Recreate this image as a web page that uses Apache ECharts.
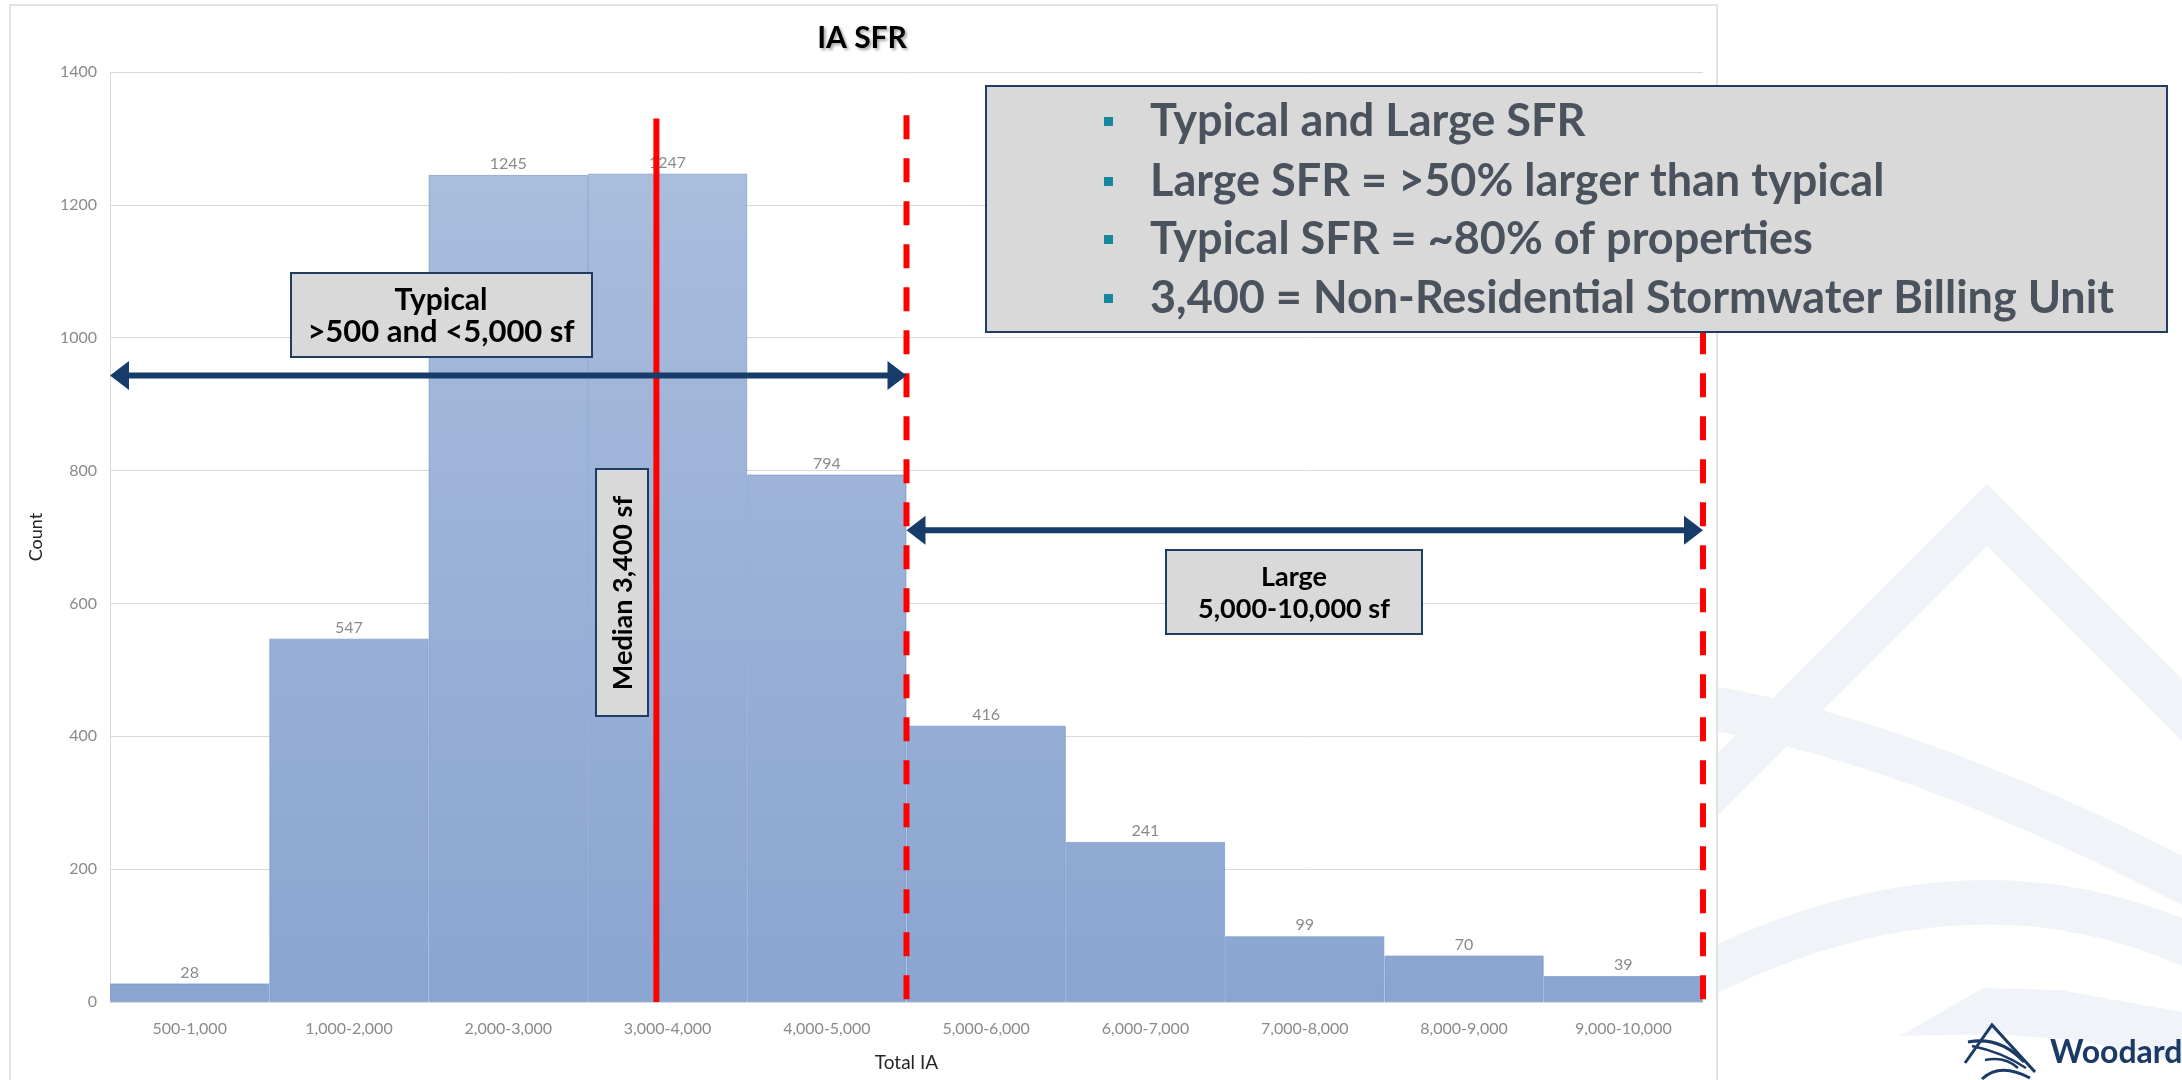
<!DOCTYPE html>
<html>
<head>
<meta charset="utf-8">
<script src="https://cdn.jsdelivr.net/npm/echarts@6/dist/echarts.min.js"></script>
<style>html,body{margin:0;padding:0;background:#fff;}#c{width:2182px;height:1080px;}</style>
</head>
<body>
<div id="c"></div>
<script>
// ---- data ----
const categories = ['500-1,000','1,000-2,000','2,000-3,000','3,000-4,000','4,000-5,000','5,000-6,000','6,000-7,000','7,000-8,000','8,000-9,000','9,000-10,000'];
const counts = [28, 547, 1245, 1247, 794, 416, 241, 99, 70, 39];
const yMin = 0, yMax = 1400, yStep = 200;
// reference lines on the bin-boundary scale (1 unit = 1,000 sf): [position, top value, dashed]
const refLines = [[3.43, 1330, 0], [5, 1335, 1], [10, 1335, 1]];
// range arrows: [from, to, at count]
const rangeArrows = [[0, 5, 943], [5, 10, 710]];
const titleText = 'IA SFR';
const xName = 'Total IA';
const yName = 'Count';
const typicalLines = ['Typical', '>500 and <5,000 sf'];
const largeLines = ['Large', '5,000-10,000 sf'];
const medianText = 'Median 3,400 sf';
const bullets = ['Typical and Large SFR', 'Large SFR = >50% larger than typical', 'Typical SFR = ~80% of properties', '3,400 = Non-Residential Stormwater Billing Unit'];

const chart = echarts.init(document.getElementById('c'), null, {renderer: 'canvas'});
const NAVY = '#173c6a';
const BOXFILL = '#d9d9d9';
const BOXLINE = '#1f3c66';
const F = 'Lato, "Open Sans", sans-serif';

function text(x, y, t, font, fill, align, z, extra) {
  return Object.assign({type: 'text', x: x, y: y, z: z || 20,
    style: Object.assign({text: t, font: font, fill: fill, textAlign: align || 'center', textVerticalAlign: 'middle'}, extra || {})});
}

const wm = '#f0f3f7';
const graphics = [
  // watermark
  {type: 'polyline', z: -20, shape: {points: [[1650, 852], [1987, 515], [2260, 788]]}, style: {stroke: wm, lineWidth: 44, fill: null, lineJoin: 'miter'}},
  {type: 'bezierCurve', z: -20, shape: {x1: 1640, y1: 700, x2: 2220, y2: 900, cpx1: 1870, cpy1: 715}, style: {stroke: wm, lineWidth: 44, fill: null}},
  {type: 'bezierCurve', z: -20, shape: {x1: 1640, y1: 1010, x2: 2230, y2: 965, cpx1: 1960, cpy1: 820}, style: {stroke: wm, lineWidth: 44, fill: null}},
  {type: 'polygon', z: -20, shape: {points: [[1900, 1036], [1983, 988], [2060, 990], [2182, 1012], [2182, 1064], [2080, 1040], [1990, 1034]]}, style: {fill: wm}},
  // chart frame
  {type: 'rect', z: -10, shape: {x: 10, y: 5, width: 1707, height: 1090}, style: {fill: '#ffffff', stroke: '#d9d9d9', lineWidth: 1.5}},
  // title
  text(862, 38, titleText, 'bold 30px ' + F, '#000', 'center', 20, {textShadowColor: 'rgba(0,0,0,0.35)', textShadowBlur: 3, textShadowOffsetX: 2, textShadowOffsetY: 2}),
  // typical box
  {type: 'rect', z: 20, shape: {x: 291, y: 273, width: 301, height: 84}, style: {fill: BOXFILL, stroke: BOXLINE, lineWidth: 2}},
  text(441, 300, typicalLines[0], 'bold 30px ' + F, '#000', 'center', 21),
  text(441, 332, typicalLines[1], 'bold 31px ' + F, '#000', 'center', 21),
  // median box
  {type: 'rect', z: 20, shape: {x: 596, y: 469, width: 52, height: 247}, style: {fill: BOXFILL, stroke: BOXLINE, lineWidth: 2}},
  {type: 'text', x: 623, y: 593, rotation: Math.PI / 2, z: 21, style: {text: medianText, font: 'bold 27px ' + F, fill: '#000', textAlign: 'center', textVerticalAlign: 'middle'}},
  // large box
  {type: 'rect', z: 20, shape: {x: 1166, y: 550, width: 256, height: 84}, style: {fill: BOXFILL, stroke: BOXLINE, lineWidth: 2}},
  text(1294, 577, largeLines[0], 'bold 27px ' + F, '#000', 'center', 21),
  text(1294, 609, largeLines[1], 'bold 27px ' + F, '#000', 'center', 21),
  // info box
  {type: 'rect', z: 20, shape: {x: 986, y: 86, width: 1181, height: 246}, style: {fill: BOXFILL, stroke: BOXLINE, lineWidth: 2}}
];
const lineYs = [121, 181, 239, 298];
bullets.forEach(function (b, i) {
  graphics.push({type: 'rect', z: 21, shape: {x: 1104, y: lineYs[i] - 4, width: 9, height: 9}, style: {fill: '#17879b'}});
  graphics.push(text(1150, lineYs[i], b, 'bold 45px ' + F, '#49525d', 'left', 21));
});
// logo
const LG = '#1b3a66';
graphics.push(
  {type: 'polyline', z: 21, shape: {points: [[1965, 1063], [1992, 1025], [2035, 1072]]}, style: {stroke: LG, lineWidth: 3, fill: null}},
  {type: 'bezierCurve', z: 21, shape: {x1: 1968, y1: 1042, cpx1: 2000, cpy1: 1036, x2: 2024, y2: 1062}, style: {stroke: LG, lineWidth: 3, fill: null}},
  {type: 'bezierCurve', z: 21, shape: {x1: 1972, y1: 1046, cpx1: 2002, cpy1: 1052, x2: 2026, y2: 1068}, style: {stroke: LG, lineWidth: 2.5, fill: null}},
  {type: 'bezierCurve', z: 21, shape: {x1: 1982, y1: 1079, cpx1: 2000, cpy1: 1062, x2: 2030, y2: 1078}, style: {stroke: LG, lineWidth: 3, fill: null}},
  {type: 'bezierCurve', z: 21, shape: {x1: 1985, y1: 1060, cpx1: 2005, cpy1: 1056, x2: 2018, y2: 1068}, style: {stroke: LG, lineWidth: 2.5, fill: null}},
  text(2050, 1053, 'Woodard & Curran', 'bold 32px ' + F, LG, 'left', 21)
);

const option = {
  backgroundColor: '#ffffff',
  animation: false,
  grid: {left: 110, right: 479, top: 72, bottom: 78, containLabel: false},
  xAxis: [{
    type: 'category', data: categories, boundaryGap: true,
    axisLine: {show: true, lineStyle: {color: '#d9d9d9', width: 1}},
    axisTick: {show: false},
    axisLabel: {color: '#8a8a8a', fontFamily: F, fontSize: 16, margin: 19},
    splitLine: {show: false},
    name: xName, nameLocation: 'middle', nameGap: 51,
    nameTextStyle: {color: '#262626', fontFamily: F, fontSize: 19}
  }, {
    type: 'value', min: 0, max: categories.length, show: false, position: 'bottom'
  }],
  yAxis: {
    type: 'value', min: yMin, max: yMax, interval: yStep,
    axisLine: {show: true, lineStyle: {color: '#d9d9d9'}},
    axisTick: {show: false},
    axisLabel: {color: '#8a8a8a', fontFamily: F, fontSize: 16, margin: 13, formatter: function (v) { return String(v); }},
    splitLine: {lineStyle: {color: '#d9d9d9', width: 1}},
    name: yName, nameLocation: 'middle', nameGap: 65,
    nameTextStyle: {color: '#262626', fontFamily: F, fontSize: 18}
  },
  graphic: {elements: graphics},
  series: [{
    type: 'bar', data: counts, xAxisIndex: 0, z: 2,
    barCategoryGap: '0%',
    itemStyle: {
      color: new echarts.graphic.LinearGradient(0, 72, 0, 1002, [{offset: 0, color: '#adc0de'}, {offset: 1, color: '#8aa5d1'}], true),
      borderColor: 'rgba(110,143,198,0.6)', borderWidth: 1
    },
    label: {show: true, position: 'top', distance: 3, color: '#8a8a8a', fontFamily: F, fontSize: 16}
  }, {
    type: 'custom', xAxisIndex: 1, z: 4, clip: false, data: refLines,
    renderItem: function (params, api) {
      const top = api.coord([api.value(0), api.value(1)]);
      const bot = api.coord([api.value(0), 0]);
      return {type: 'line', shape: {x1: top[0], y1: top[1], x2: bot[0], y2: bot[1]},
        style: {stroke: '#ff0000', lineWidth: 6, lineDash: api.value(2) ? [24, 19] : null, lineCap: 'butt'}};
    }
  }, {
    type: 'custom', xAxisIndex: 1, z: 5, clip: false, data: rangeArrows,
    renderItem: function (params, api) {
      const a = api.coord([api.value(0), api.value(2)]);
      const b = api.coord([api.value(1), api.value(2)]);
      const hl = 19, hw = 14.5;
      return {type: 'group', children: [
        {type: 'line', shape: {x1: a[0] + hl - 2, y1: a[1], x2: b[0] - hl + 2, y2: b[1]}, style: {stroke: NAVY, lineWidth: 6}},
        {type: 'polygon', shape: {points: [[a[0], a[1]], [a[0] + hl, a[1] - hw], [a[0] + hl, a[1] + hw]]}, style: {fill: NAVY}},
        {type: 'polygon', shape: {points: [[b[0], b[1]], [b[0] - hl, b[1] - hw], [b[0] - hl, b[1] + hw]]}, style: {fill: NAVY}}
      ]};
    }
  }]
};
chart.setOption(option);
</script>
</body>
</html>
